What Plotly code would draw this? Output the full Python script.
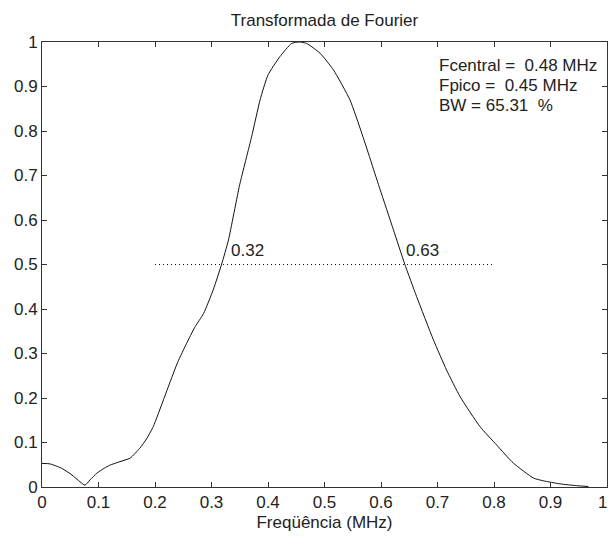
import plotly.graph_objects as go

# Spectrum data
freq = [0.0, 0.014, 0.035, 0.053, 0.067, 0.076, 0.085, 0.097, 0.11, 0.12, 0.138,
        0.156, 0.173, 0.185, 0.197, 0.215, 0.227, 0.24, 0.256, 0.27, 0.286, 0.303,
        0.318, 0.33, 0.35, 0.371, 0.386, 0.4, 0.421, 0.442, 0.455, 0.468, 0.492,
        0.516, 0.545, 0.566, 0.598, 0.622, 0.642, 0.663, 0.693, 0.716, 0.74, 0.775,
        0.805, 0.834, 0.87, 0.887, 0.917, 0.946, 0.967]
amp = [0.053, 0.052, 0.042, 0.027, 0.012, 0.004, 0.016, 0.031, 0.042, 0.049, 0.057,
       0.065, 0.087, 0.108, 0.136, 0.196, 0.237, 0.28, 0.323, 0.358, 0.39, 0.443,
       0.501, 0.555, 0.68, 0.787, 0.87, 0.926, 0.967, 0.997, 1.0, 0.997, 0.975,
       0.937, 0.87, 0.795, 0.67, 0.578, 0.501, 0.428, 0.33, 0.263, 0.203, 0.136,
       0.094, 0.054, 0.02, 0.014, 0.007, 0.003, 0.001]

half_line_x = [0.2, 0.8]
half_level = 0.5
cut_freqs = [0.32, 0.63]
cut_labels = ["0.32", "0.63"]
info_lines = ["Fcentral =  0.48 MHz", "Fpico =  0.45 MHz", "BW = 65.31  %"]
info_y = [0.948, 0.903, 0.858]

tick_vals = [0, 0.1, 0.2, 0.3, 0.4, 0.5, 0.6, 0.7, 0.8, 0.9, 1]
tick_text = ["0", "0.1", "0.2", "0.3", "0.4", "0.5", "0.6", "0.7", "0.8", "0.9", "1"]

FONT = "Liberation Sans, Arial, sans-serif"
TXT = "#222222"

fig = go.Figure()
fig.add_trace(go.Scatter(x=freq, y=amp, mode="lines",
                         line=dict(color="#111111", width=1, shape="spline", smoothing=0.5),
                         showlegend=False))
fig.add_trace(go.Scatter(x=half_line_x, y=[half_level, half_level], mode="lines",
                         line=dict(color="#111111", width=1, dash="1px,3px"),
                         showlegend=False))

for xc, lab in zip(cut_freqs, cut_labels):
    fig.add_annotation(x=xc + 0.011, y=half_level + 0.031, text=lab, showarrow=False,
                       xanchor="left", yanchor="middle",
                       font=dict(family=FONT, size=17, color=TXT))

for txt, yy in zip(info_lines, info_y):
    fig.add_annotation(x=0.699, y=yy, text=txt.replace(" ", "&nbsp;"), showarrow=False,
                       xanchor="left", yanchor="middle",
                       font=dict(family=FONT, size=17, color=TXT))

# last x tick label (drawn explicitly since it sits at the page edge)
fig.add_annotation(x=tick_vals[-1], y=0, text=tick_text[-1], showarrow=False,
                   xanchor="right", yanchor="middle", yshift=-15, xshift=1,
                   borderpad=0, font=dict(family=FONT, size=17, color=TXT))

axis_common = dict(
    range=[0, 1],
    ticks="inside", ticklen=5, tickcolor="#333333", tickwidth=1,
    showline=True, linecolor="#333333", linewidth=1, mirror="ticks",
    showgrid=False, zeroline=False,
    tickfont=dict(family=FONT, size=17, color=TXT),
)

fig.update_layout(
    width=609, height=536,
    margin=dict(l=42, r=2, t=42, b=49),
    paper_bgcolor="white", plot_bgcolor="white",
    title=dict(text="Transformada de Fourier", x=0.5, xref="paper",
               y=1 - 20 / 536, yref="container", yanchor="middle",
               font=dict(family=FONT, size=17, color=TXT)),
    xaxis=dict(**axis_common, tickvals=tick_vals[:-1], ticktext=tick_text[:-1],
               title=dict(text="Freqüência (MHz)", standoff=4,
                          font=dict(family=FONT, size=17, color=TXT))),
    yaxis=dict(**axis_common, tickvals=tick_vals, ticktext=tick_text),
)
# keep the tick mark at x=1 even though its label is an annotation
fig.update_xaxes(minor=dict(tickvals=[tick_vals[-1]], ticks="inside", ticklen=5,
                            tickcolor="#333333"))

fig.write_html("out.html")
